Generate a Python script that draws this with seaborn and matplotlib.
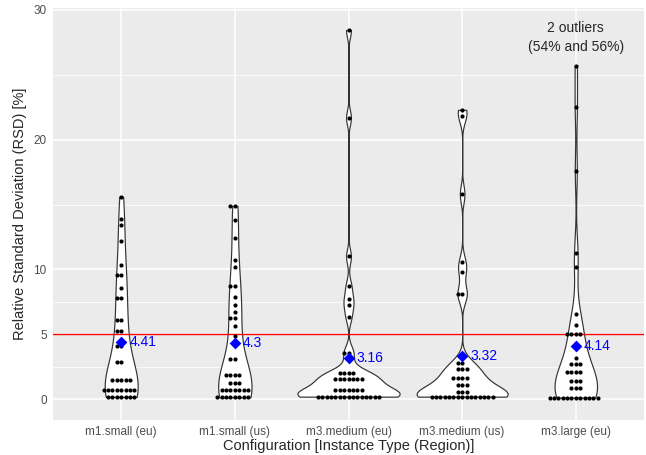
import numpy as np
import pandas as pd
import seaborn as sns
import matplotlib.pyplot as plt

configs = ['m1.small (eu)', 'm1.small (us)', 'm3.medium (eu)', 'm3.medium (us)', 'm3.large (eu)']

# RSD [%] per configuration
rsd_m1_small_eu = [15.6, 13.9, 13.4, 12.2, 10.35, 9.6, 9.6, 8.55, 7.83, 7.83, 6.13, 6.13,
                   5.24, 5.24, 4.1, 4.1, 2.85, 2.85,
                   1.46, 1.46, 1.46, 1.46, 1.46,
                   0.69, 0.69, 0.69, 0.69, 0.69, 0.69, 0.69, 0.69,
                   0.18, 0.18, 0.18, 0.18, 0.18, 0.18, 0.18]
rsd_m1_small_us = [14.9, 14.9, 13.8, 12.4, 10.7, 10.2, 8.73, 8.73, 7.9, 7.26, 6.7, 6.29, 6.29,
                   5.65, 4.9, 3.08, 3.08,
                   1.87, 1.87, 1.87, 1.87,
                   1.23, 1.23, 1.23,
                   0.72, 0.72, 0.72, 0.72, 0.72, 0.72, 0.72,
                   0.15, 0.15, 0.15, 0.15, 0.15, 0.15, 0.15, 0.15]
rsd_m3_medium_eu = [28.45, 21.7, 11.0, 8.73, 7.75, 7.26, 6.36, 3.54, 3.54,
                    2.0, 2.0, 2.0, 2.0,
                    1.56, 1.56, 1.56, 1.56, 1.56, 1.56, 1.56,
                    0.72, 0.72, 0.72, 0.72, 0.72, 0.72, 0.72,
                    0.2, 0.2, 0.2, 0.2, 0.2, 0.2, 0.2, 0.2, 0.2, 0.2, 0.2, 0.2, 0.2, 0.2, 0.2]
rsd_m3_medium_us = [22.3, 21.85, 15.8, 10.55, 9.83, 8.1, 8.1, 2.77, 2.77,
                    2.31, 2.31, 2.31,
                    1.66, 1.66, 1.66, 1.66,
                    1.1, 1.1, 1.1,
                    0.59, 0.59, 0.59,
                    0.2, 0.2, 0.2, 0.2, 0.2, 0.2, 0.2, 0.2, 0.2, 0.2, 0.2, 0.2, 0.2, 0.2, 0.2]
rsd_m3_large_eu = [25.68, 22.5, 17.6, 11.3, 10.2, 6.55, 5.72, 5.05, 5.05, 5.05, 5.05, 3.2,
                   2.69, 2.69, 2.69,
                   2.13, 2.13, 2.13, 2.13,
                   1.41, 1.41, 1.41,
                   0.85, 0.85, 0.85,
                   0.12, 0.12, 0.12, 0.12, 0.12, 0.12, 0.12, 0.12, 0.12, 0.12, 0.12, 0.12]
means = [4.41, 4.3, 3.16, 3.32, 4.14]

groups = [rsd_m1_small_eu, rsd_m1_small_us, rsd_m3_medium_eu, rsd_m3_medium_us, rsd_m3_large_eu]
df = pd.concat([pd.DataFrame({'config': c, 'rsd': g}) for c, g in zip(configs, groups)],
               ignore_index=True)


def nrd0(v):
    # R's default bandwidth (what ggplot's violin uses)
    v = np.asarray(v)
    iqr = np.subtract(*np.percentile(v, [75, 25]))
    return 0.9 * min(v.std(ddof=1), iqr / 1.34) * len(v) ** -0.2


def peak_density(v, bw):
    v = np.asarray(v)
    grid = np.linspace(v.min(), v.max(), 512)
    d = np.exp(-0.5 * ((grid[:, None] - v) / bw) ** 2).sum(1) / (len(v) * bw * np.sqrt(2 * np.pi))
    return d.max()


bws = [nrd0(g) for g in groups]
peaks = [peak_density(g, b) for g, b in zip(groups, bws)]

sns.set_theme(style='darkgrid', rc={'axes.facecolor': '#EBEBEB', 'grid.color': 'white'})
plt.rcParams['font.family'] = ['Liberation Sans', 'DejaVu Sans']

fig = plt.figure(figsize=(6.46, 4.55), dpi=100)
ax = fig.add_axes([53 / 646, 35 / 455, 591 / 646, 412 / 455])

# one call per violin so each gets its own bandwidth; widths scaled like ggplot's scale="area"
for c, g, b, p in zip(configs, groups, bws, peaks):
    sns.violinplot(data=df[df.config == c], x='config', y='rsd', order=configs, ax=ax,
                   bw_method=b / np.std(g, ddof=1), cut=0, gridsize=512,
                   width=0.9 * p / max(peaks), density_norm='width', inner=None,
                   color='white', saturation=1, linecolor='#333333', linewidth=0.85)

ax.axhline(5, color='red', lw=1.0, zorder=3)
sns.swarmplot(data=df, x='config', y='rsd', order=configs, color='black', size=3.0,
              linewidth=0, ax=ax, zorder=4)
sns.stripplot(x=configs, y=means, order=configs, jitter=False, marker='D', color='blue',
              size=6, linewidth=0, ax=ax, zorder=5)
for i, m in enumerate(means):
    ax.text(i + 0.07, m, f'{m:g}', color='blue', fontsize=10, va='center', zorder=6)

ax.text(4, 27.9, '2 outliers\n(54% and 56%)', ha='center', va='center', fontsize=10,
        linespacing=1.45)

ax.set_xlim(-0.6, 4.6)
ax.set_ylim(-1.6, 30.15)
ax.set_yticks([0, 5, 10, 20, 30])
ax.set_yticks([2.5, 7.5, 15, 25], minor=True)
ax.grid(True, which='major', color='white', lw=1.1)
ax.grid(True, which='minor', axis='y', color='white', lw=0.55)
for s in ax.spines.values():
    s.set_visible(False)
ax.tick_params(which='major', length=3, width=0.8, color='#333333', labelcolor='#4D4D4D',
               labelsize=8.5, pad=1.5)
ax.tick_params(which='minor', length=0)
ax.set_xlabel('Configuration [Instance Type (Region)]', fontsize=10.5, labelpad=0.5)
ax.set_ylabel('Relative Standard Deviation (RSD) [%]', fontsize=10.5, labelpad=5)

fig.savefig('out.png', dpi=100)
